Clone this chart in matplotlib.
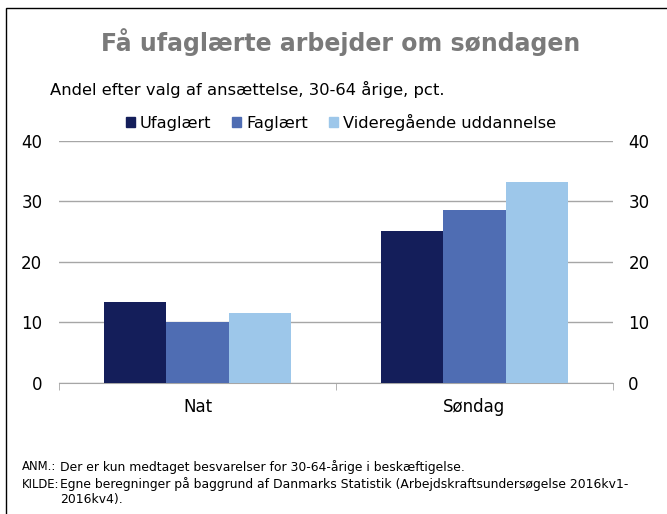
import numpy as np
import matplotlib.pyplot as plt
from matplotlib.patches import Rectangle, Patch

categories = ['Nat', 'Søndag']
series = ['Ufaglært', 'Faglært', 'Videregående uddannelse']
values = {
    'Ufaglært': [13.3, 25.0],
    'Faglært': [10.0, 28.5],
    'Videregående uddannelse': [11.5, 33.1],
}
colors = ['#141e5a', '#4f6db3', '#9dc7ea']
yticks = [0, 10, 20, 30, 40]

fig = plt.figure(figsize=(6.67, 5.14), dpi=100)
ax = fig.add_axes([59 / 667, 1 - 383 / 514, 554 / 667, 242.5 / 514])

x = np.arange(len(categories))
w = 0.225
for i, s in enumerate(series):
    ax.bar(x + (i - 1) * w, values[s], width=w, color=colors[i], label=s, zorder=3)

ax.set_xlim(-0.5, 1.5)
ax.set_ylim(0, 40)
ax.set_yticks(yticks)
ax.grid(axis='y', color='#a6a6a6', linewidth=1, zorder=0)
for sp in ['top', 'left', 'right']:
    ax.spines[sp].set_visible(False)
ax.spines['bottom'].set_color('#a6a6a6')
ax.tick_params(axis='y', length=0, labelsize=12, pad=12)
ax.set_xticks(x)
ax.set_xticklabels(categories, fontsize=12)
ax.tick_params(axis='x', length=0, pad=11)
# category boundary ticks
ax.set_xticks([-0.5, 0.5, 1.5], minor=True)
ax.tick_params(axis='x', which='minor', length=5, color='#a6a6a6', direction='out')

ax2 = ax.twinx()
ax2.set_ylim(0, 40)
ax2.set_yticks(yticks)
for sp in ['top', 'left', 'right', 'bottom']:
    ax2.spines[sp].set_visible(False)
ax2.tick_params(axis='y', length=0, labelsize=12, pad=11)

fig.text(0.51, 1 - 42 / 514, 'Få ufaglærte arbejder om søndagen', ha='center', va='center',
         fontsize=17, fontweight='bold', color='#7a7a7a')
fig.text(50 / 667, 1 - 89 / 514, 'Andel efter valg af ansættelse, 30-64 årige, pct.',
         ha='left', va='center', fontsize=11.8)

handles = [Patch(color=c) for c in colors]
fig.legend(handles, series, loc='center', bbox_to_anchor=(341 / 667, 1 - 122 / 514), ncol=3,
           frameon=False, fontsize=11.7, handlelength=0.55, handleheight=0.55,
           handletextpad=0.3, columnspacing=1.3)

notes = [
    (467, 'ANM.:', 'Der er kun medtaget besvarelser for 30-64-årige i beskæftigelse.'),
    (484, 'KILDE:', 'Egne beregninger på baggrund af Danmarks Statistik (Arbejdskraftsundersøgelse 2016kv1-'),
    (500, '', '2016kv4).'),
]
for yy, lab, txt in notes:
    fig.text(22 / 667, 1 - yy / 514, lab, ha='left', va='center', fontsize=8.4)
    fig.text(60 / 667, 1 - yy / 514, txt, ha='left', va='center', fontsize=8.9)

fig.patches.append(Rectangle((6 / 667, -0.1), 1.2, 1 - 8 / 514 + 0.1, transform=fig.transFigure,
                             fill=False, edgecolor='black', linewidth=1))

fig.savefig('out.png', dpi=100)
